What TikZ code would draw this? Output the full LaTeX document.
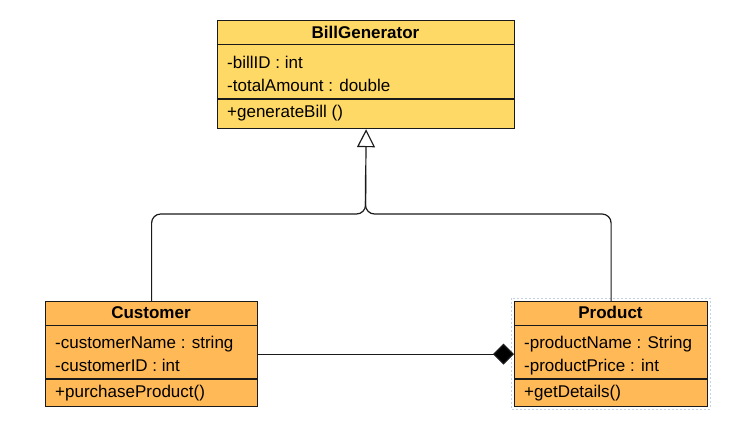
\documentclass[tikz,border=0pt]{standalone}
\usepackage{fontspec}
\setmainfont{Liberation Sans}
\usetikzlibrary{arrows.meta}
\definecolor{billfill}{HTML}{FFD966}
\definecolor{classfill}{HTML}{FFB957}
\definecolor{edge}{HTML}{1A1A1A}
\definecolor{selblue}{HTML}{C5D2E6}
\begin{document}
\begin{tikzpicture}[x=1pt,y=-1pt,
  classbox/.style={draw=edge, line width=1.2pt, inner sep=0pt, anchor=north west},
  divider/.style={draw=edge, line width=1.1pt},
  classtitle/.style={font=\fontsize{17}{20}\selectfont\bfseries, anchor=base, inner sep=0pt},
  member/.style={font=\fontsize{17}{20}\selectfont, anchor=base west, inner sep=0pt},
  conn/.style={draw=edge, line width=1.2pt, rounded corners=9pt}]

\useasboundingbox (0,0) rectangle (754,437);

% BillGenerator
\node[classbox, fill=billfill, minimum width=297pt, minimum height=108pt] (bill) at (217,20) {};
\draw[divider] (217,44.5) -- (514,44.5);
\draw[divider] (217,99) -- (514,99);
\node[classtitle] (billt) at (365.5,38) {BillGenerator};
\node[member] (billa1) at (227,68) {-billID : int};
\node[member] (billa2) at (227,91) {-totalAmount : double};
\node[member] (billm1) at (227,117) {+generateBill ()};

% Customer
\node[classbox, fill=classfill, minimum width=212pt, minimum height=105pt] (cust) at (45,301) {};
\draw[divider] (45,325.5) -- (257,325.5);
\draw[divider] (45,379) -- (257,379);
\node[classtitle] (custt) at (151,318) {Customer};
\node[member] (custa1) at (55,348.5) {-customerName : string};
\node[member] (custa2) at (55,371) {-customerID : int};
\node[member] (custm1) at (55,397) {+purchaseProduct()};

% Product
\draw[selblue, line width=0.8pt, dash pattern=on 2pt off 2pt] (511,298) rectangle (710,409);
\node[classbox, fill=classfill, minimum width=193pt, minimum height=105pt] (prod) at (514,301) {};
\draw[divider] (514,325.5) -- (707,325.5);
\draw[divider] (514,379) -- (707,379);
\node[classtitle] (prodt) at (610.5,318) {Product};
\node[member] (proda1) at (524,348.5) {-productName : String};
\node[member] (proda2) at (524,371) {-productPrice : int};
\node[member] (prodm1) at (524,397) {+getDetails()};

% Generalization
\coordinate (junc) at (365.5,214);
\coordinate (upper) at (365.5,175);
\draw[conn] (prod.north) -- (prod.north |- junc) -- (junc) -- (upper);
\draw[conn, -{Triangle[open, length=18pt, width=18pt, fill=white]}]
  (cust.north) -- (cust.north |- junc) -- (junc) -- (bill.south);

% Composition
\draw[conn, -{Diamond[length=21pt, width=21pt, fill=black]}] (cust.east) -- (prod.west);
\end{tikzpicture}
\end{document}
